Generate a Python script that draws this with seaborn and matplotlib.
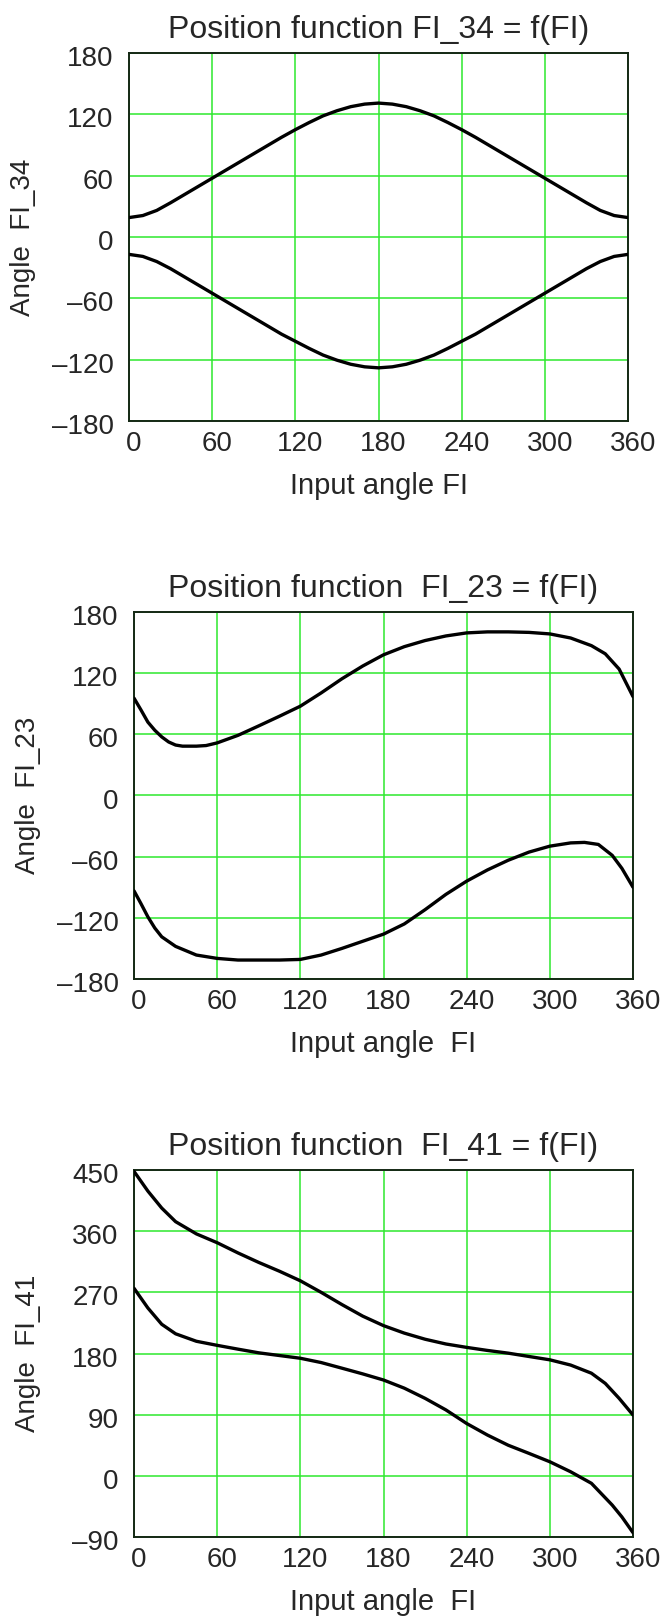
import numpy as np
import pandas as pd
import seaborn as sns
import matplotlib
matplotlib.use("Agg")
import matplotlib.pyplot as plt
from matplotlib.transforms import ScaledTranslation

# ---------------- data ----------------
fi_34 = [0, 10, 20, 30, 40, 50, 60, 70, 80, 90, 100, 110, 120, 130, 140, 150, 160, 170, 180,
         190, 200, 210, 220, 230, 240, 250, 260, 270, 280, 290, 300, 310, 320, 330, 340, 350, 360]
fi34_upper = [19, 21, 26, 33.5, 41.5, 49.5, 57.5, 65.5, 73.5, 81.5, 89.5, 97.5, 105, 112,
              118.5, 123.5, 127.5, 130, 131,
              130, 127.5, 123.5, 118.5, 112, 105, 97.5, 89.5, 81.5, 73.5, 65.5, 57.5,
              49.5, 41.5, 33.5, 26, 21, 19]
fi34_lower = [-17, -19, -24, -31, -39, -47, -55, -63, -71, -79, -87, -95, -102, -109,
              -115.5, -120.5, -124.5, -127, -128,
              -127, -124.5, -120.5, -115.5, -109, -102, -95, -87, -79, -71, -63, -55,
              -47, -39, -31, -24, -19, -17]

fi_23_x = [0, 5, 10, 15, 20, 25, 30, 35, 45, 52, 60, 75, 90, 105, 120, 135, 150, 165, 180,
           195, 210, 225, 240, 255, 270, 285, 300, 315, 330, 340, 350, 360]
fi23_upper = [95.5, 84, 72, 64, 57.5, 52.5, 49.5, 48.4, 48.4, 49, 51.6, 59, 68.3, 77.8, 87.6,
              100.6, 114.5, 127, 138, 146, 152, 156.5, 159.5, 160.5, 160.5, 160, 158.5,
              154.5, 147, 139, 124, 97]
fi_23_lx = [0, 5, 10, 15, 20, 30, 45, 60, 75, 90, 105, 120, 135, 150, 165, 180, 195, 210,
            225, 240, 255, 270, 285, 300, 315, 325, 335, 345, 352, 360]
fi23_lower = [-93.5, -106, -119, -130, -138.6, -148, -156.5, -159.8, -161.4, -161.4, -161.4,
              -160.8, -156.5, -150, -143, -136, -126, -112, -97, -84, -73, -63.5, -55.5,
              -49.7, -46.5, -46, -48, -58.7, -71.5, -90]

fi_41_x = [0, 10, 20, 30, 45, 60, 75, 90, 105, 120, 135, 150, 165, 180, 195, 210,
           225, 240, 255, 270, 285, 300, 315, 330, 340, 350, 360]
fi41_upper = [448, 419, 394, 374, 356, 343, 328, 314, 301, 287, 270, 252, 235, 221,
              210, 201, 194, 189, 184.5, 180.5, 175.6, 170.7, 163, 151, 136, 114, 89.5]
fi_41_lx = [0, 10, 20, 30, 45, 60, 75, 90, 105, 120, 135, 150, 165, 180, 195, 210,
            225, 240, 255, 270, 285, 300, 315, 330, 345, 352, 360]
fi41_lower = [276, 247, 223, 209, 198, 192, 186.4, 181, 177, 173, 166.7, 158.4, 150,
              141, 129, 114, 97, 77, 60, 45, 33, 20.7, 6, -11, -43, -60.5, -83.6]

x_ticks = [0, 60, 120, 180, 240, 300, 360]
y_ticks_a = [-180, -120, -60, 0, 60, 120, 180]
y_ticks_b = [-90, 0, 90, 180, 270, 360, 450]

# ---------------- styling ----------------
sns.set_style("white")
plt.rcParams['font.family'] = ['Liberation Sans', 'DejaVu Sans']

W, H = 664, 1619
fig = plt.figure(figsize=(W / 100, H / 100), dpi=100)

GRID = '#2ee82e'
FS_TICK = 20
FS_TITLE = 23
FS_XLAB = 21
FS_YLAB = 20


def lab(v):
    return ('\u2013' + str(-v)) if v < 0 else str(v)


def make_axes(left, right, top, bottom):
    return fig.add_axes([left / W, (H - bottom) / H, (right - left) / W, (bottom - top) / H])


panels = [
    dict(box=(129, 628, 53, 421), title='Position function FI_34 = f(FI)',
         xlabel='Input angle FI', ylabel='Angle  FI_34', yt=y_ticks_a, ylab_x=23,
         curves=[(fi_34, fi34_upper), (fi_34, fi34_lower)]),
    dict(box=(134, 633, 612, 979), title='Position function  FI_23 = f(FI)',
         xlabel='Input angle  FI', ylabel='Angle  FI_23', yt=y_ticks_a, ylab_x=28,
         curves=[(fi_23_x, fi23_upper), (fi_23_lx, fi23_lower)]),
    dict(box=(134, 633, 1170, 1537), title='Position function  FI_41 = f(FI)',
         xlabel='Input angle  FI', ylabel='Angle  FI_41', yt=y_ticks_b, ylab_x=28,
         curves=[(fi_41_x, fi41_upper), (fi_41_lx, fi41_lower)]),
]

for p in panels:
    ax = make_axes(*p['box'])
    for xs, ys in p['curves']:
        df = pd.DataFrame({'x': xs, 'y': ys})
        sns.lineplot(data=df, x='x', y='y', ax=ax, color='black', linewidth=2.4,
                     sort=False, estimator=None, zorder=5)
    ax.set_xlim(0, 360)
    ax.set_ylim(p['yt'][0], p['yt'][-1])
    ax.set_xticks(x_ticks)
    ax.set_xticklabels([lab(v) for v in x_ticks], fontsize=FS_TICK)
    ax.set_yticks(p['yt'])
    ax.set_yticklabels([lab(v) for v in p['yt']], fontsize=FS_TICK)
    ax.tick_params(axis='both', length=0)
    ax.tick_params(axis='x', pad=7)
    ax.tick_params(axis='y', pad=11)
    ax.grid(True, color=GRID, linewidth=1.1)
    ax.set_axisbelow(True)
    for s in ax.spines.values():
        s.set_color('#142814')
        s.set_linewidth(1.4)
        s.set_visible(True)
    ax.set_title(p['title'], fontsize=FS_TITLE, pad=11)
    ax.set_xlabel(p['xlabel'], fontsize=FS_XLAB, labelpad=11)
    ax.set_ylabel(p['ylabel'], fontsize=FS_YLAB)
    left, right = p['box'][0], p['box'][1]
    ax.yaxis.set_label_coords((p['ylab_x'] - left) / (right - left), 0.5)
    ax.yaxis.label.set_verticalalignment('center')
    off_x = ScaledTranslation(5 / 100, 0, fig.dpi_scale_trans)
    for t in ax.get_xticklabels():
        t.set_transform(t.get_transform() + off_x)
    off_y = ScaledTranslation(0, -3 / 100, fig.dpi_scale_trans)
    for t in ax.get_yticklabels():
        t.set_transform(t.get_transform() + off_y)

fig.savefig('out.png', dpi=100, facecolor='white')
